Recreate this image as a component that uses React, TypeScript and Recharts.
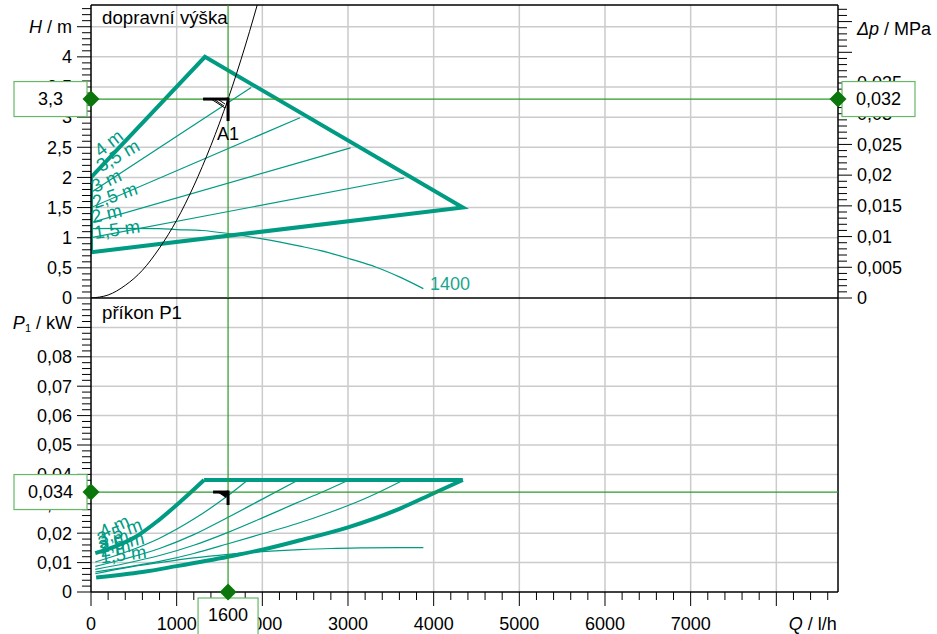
import React from 'react';
import { ComposedChart, Line, XAxis, YAxis, ReferenceLine, ReferenceDot } from 'recharts';

const FONT = '"Liberation Sans", Arial, sans-serif';
const TEAL = '#009b83';
const GRID = '#cbcbcb';
const CROSS = '#2b9b2b';
const DIAMOND = '#0b760b';
const BOX = '#66b866';

// Q axis (l/h)
const Q_MAX = 8720;
const qLabels = [0, 1000, 2000, 3000, 4000, 5000, 6000, 7000];
const qGrid = [1000, 2000, 3000, 4000, 5000, 6000, 7000, 8000];
const qMinor = Array.from({ length: 44 }, (_, i) => i * 200);
const Q_UNIT_AT = 8600;

// top panel: H (m) and Δp (MPa)
const H_MAX = 4.86;
const hLabels = [0, 0.5, 1, 1.5, 2, 2.5, 3, 3.5, 4];
const hGrid = [0.5, 1, 1.5, 2, 2.5, 3, 3.5, 4, 4.5];
const hMinor = Array.from({ length: 49 }, (_, i) => Number((i * 0.1).toFixed(1)));
const DP_MAX = 0.0477;
const dpLabels = [0, 0.005, 0.01, 0.015, 0.02, 0.025, 0.03, 0.035];
const dpMajor = [0, 0.005, 0.01, 0.015, 0.02, 0.025, 0.03, 0.035, 0.04, 0.045];
const dpMinor = Array.from({ length: 48 }, (_, i) => Number((i * 0.001).toFixed(3)));

// bottom panel: P1 (kW)
const P_MAX = 0.1;
const pLabels = [0, 0.01, 0.02, 0.03, 0.04, 0.05, 0.06, 0.07, 0.08];
const pGrid = [0.01, 0.02, 0.03, 0.04, 0.05, 0.06, 0.07, 0.08, 0.09];
const pMinor = Array.from({ length: 50 }, (_, i) => Number((i * 0.002).toFixed(3)));

// operating point
const opQ = 1600;
const opH = 3.3;
const opDp = 0.032;
const opP = 0.034;

// H curves
const envQ = [0, 0, 1330, 4340, 0];
const envH = [0.76, 2.0, 4.0, 1.5, 0.76];
const h35Q = [0, 1870];
const h35H = [1.75, 3.49];
const h30Q = [0, 2440];
const h30H = [1.5, 2.99];
const h25Q = [0, 3030];
const h25H = [1.25, 2.49];
const h20Q = [0, 3655];
const h20H = [1.0, 1.99];
const h1400Q = [0, 400, 800, 1000, 1300, 1600, 2000, 2440, 2670, 3020, 3330, 3600, 3880];
const h1400H = [1.15, 1.155, 1.15, 1.135, 1.12, 1.07, 0.98, 0.86, 0.79, 0.65, 0.51, 0.35, 0.155];
const sysQ = [0, 200, 400, 600, 800, 1000, 1200, 1400, 1600, 1800, 2000];
const sysH = [0, 0.05, 0.21, 0.46, 0.83, 1.29, 1.86, 2.53, 3.3, 4.18, 5.16];

// P1 curves
const pMaxQ = [50, 300, 513, 785, 1058, 1320];
const pMaxP = [0.0132, 0.0157, 0.0186, 0.0243, 0.0311, 0.0381];
const pTopQ = [1320, 4340];
const pTopP = [0.0381, 0.0381];
const pMinQ = [60, 600, 1000, 1600, 2000, 2440, 3000, 3600, 4000, 4340];
const pMinP = [0.0049, 0.0068, 0.0088, 0.012, 0.0144, 0.0176, 0.022, 0.0283, 0.0336, 0.0381];
const p35Q = [50, 400, 800, 1200, 1600, 1830];
const p35P = [0.0102, 0.0135, 0.0183, 0.0248, 0.0328, 0.0381];
const p30Q = [50, 400, 800, 1200, 1600, 2000, 2420];
const p30P = [0.0087, 0.0113, 0.0148, 0.0195, 0.0254, 0.0316, 0.0381];
const p25Q = [50, 400, 800, 1200, 1600, 2000, 2400, 2700, 3010];
const p25P = [0.0077, 0.0097, 0.0124, 0.0159, 0.0203, 0.0252, 0.0303, 0.034, 0.0381];
const p20Q = [50, 400, 800, 1200, 1600, 2000, 2400, 2800, 3200, 3650];
const p20P = [0.0068, 0.0084, 0.0104, 0.0131, 0.0164, 0.0198, 0.0232, 0.0272, 0.0318, 0.0381];
const p1400Q = [50, 400, 800, 1200, 1600, 2000, 2440, 2800, 3200, 3600, 3880];
const p1400P = [0.0062, 0.0082, 0.01, 0.0116, 0.0128, 0.0137, 0.0144, 0.0148, 0.015, 0.0151, 0.0151];

const curveNames = ['4 m', '3,5 m', '3 m', '2,5 m', '2 m', '1,5 m'];

// label placement (layout)
const topLabelPos = [
  { q: 110, v: 2.33, angle: -38 },
  { q: 117, v: 2.08, angle: -30 },
  { q: 47, v: 1.74, angle: -25 },
  { q: 47, v: 1.48, angle: -19 },
  { q: 23, v: 1.24, angle: -13 },
  { q: 47, v: 0.98, angle: -8 },
];
const botLabelPos = [
  { q: 140, v: 0.0182, angle: -25 },
  { q: 105, v: 0.0158, angle: -20 },
  { q: 105, v: 0.0145, angle: -15 },
  { q: 105, v: 0.0131, angle: -12 },
  { q: 117, v: 0.0118, angle: -10 },
  { q: 117, v: 0.0097, angle: -7 },
];

const zip = (qs: number[], vs: number[]) => qs.map((q, i) => ({ q, v: vs[i] }));
const isIn = (arr: number[], v: number) => arr.some(a => Math.abs(a - v) < 1e-9);
const fmt = (v: number) => String(v).replace('.', ',');

const textStyle = { fontFamily: FONT, fontSize: 18, fill: '#000' };

const yTick = (side: 'left' | 'right', majors: number[], labels: number[], unitAt: number, unit: React.ReactNode, unitDy: number) => (p: any) => {
  const v = p.payload.value;
  const major = isIn(majors, v);
  const s = side === 'left' ? -1 : 1;
  const len = major ? 14 : 9;
  const anchor = side === 'left' ? 'end' : 'start';
  return (
    <g>
      <line x1={p.x} x2={p.x + s * len} y1={p.y} y2={p.y} stroke="#000" strokeWidth={1} />
      {isIn(labels, v) && (
        <text x={p.x + s * 19} y={p.y} dy="0.35em" textAnchor={anchor} style={textStyle}>{fmt(v)}</text>
      )}
      {Math.abs(v - unitAt) < 1e-9 && (
        <text x={p.x + s * 19} y={p.y + unitDy} dy="0.35em" textAnchor={anchor} style={textStyle}>{unit}</text>
      )}
    </g>
  );
};

const xTick = (p: any) => {
  const v = p.payload.value;
  const len = v % 1000 === 0 ? 14 : 8;
  return (
    <g>
      <line x1={p.x} x2={p.x} y1={p.y} y2={p.y + len} stroke="#000" strokeWidth={1} />
      {isIn(qLabels, v) && (
        <text x={p.x} y={p.y + 38} textAnchor="middle" style={textStyle}>{v}</text>
      )}
      {v === Q_UNIT_AT && (
        <text x={p.x + 9} y={p.y + 38} textAnchor="end" style={textStyle}>
          <tspan fontStyle="italic">Q</tspan> / l/h
        </text>
      )}
    </g>
  );
};

const Diamond = ({ cx, cy }: { cx: number; cy: number }) => (
  <polygon points={`${cx},${cy - 8.5} ${cx + 8.5},${cy} ${cx},${cy + 8.5} ${cx - 8.5},${cy}`} fill={DIAMOND} />
);

const valueBox = (text: string, side: 'left' | 'right' | 'below') => (p: any) => {
  const { cx, cy } = p;
  let rx = cx - 77, ry = cy - 17.5, w = 73, h = 35, tx = cx - 40.5, ty = cy;
  if (side === 'right') { rx = cx + 4; tx = cx + 40.5; }
  if (side === 'below') { rx = cx - 30; ry = cy + 6; w = 60; h = 50; tx = cx; ty = cy + 23; }
  return (
    <g>
      <rect x={rx} y={ry} width={w} height={h} fill="#fff" stroke={BOX} strokeWidth={1.2} />
      <text x={tx} y={ty} dy="0.35em" textAnchor="middle" style={textStyle}>{text}</text>
      <Diamond cx={cx} cy={cy} />
    </g>
  );
};

const curveLabel = (text: string, angle: number) => (p: any) => (
  <text x={p.cx} y={p.cy} transform={`rotate(${angle} ${p.cx} ${p.cy})`} style={{ fontFamily: FONT, fontSize: 18.5, fill: TEAL }}>
    {text}
  </text>
);

const markerA1 = (p: any) => {
  const { cx, cy } = p;
  return (
    <g>
      <polygon points={`${cx - 17},${cy} ${cx},${cy} ${cx - 3},${cy + 9}`} fill="#fff" stroke="#000" strokeWidth={1} />
      <line x1={cx - 13} y1={cy + 1} x2={cx - 4} y2={cy + 7} stroke="#000" strokeWidth={1} />
      <line x1={cx - 9} y1={cy + 1} x2={cx - 3} y2={cy + 5} stroke="#000" strokeWidth={1} />
      <line x1={cx - 25} x2={cx} y1={cy} y2={cy} stroke="#000" strokeWidth={3} />
      <line x1={cx} x2={cx} y1={cy - 1.5} y2={cy + 22} stroke="#000" strokeWidth={3} />
      <text x={cx - 11} y={cy + 41} style={textStyle}>A1</text>
    </g>
  );
};

const markerSmall = (p: any) => {
  const { cx, cy } = p;
  return (
    <g>
      <polygon points={`${cx - 11},${cy} ${cx},${cy} ${cx - 2},${cy + 6}`} fill="#000" />
      <line x1={cx - 15} x2={cx} y1={cy} y2={cy} stroke="#000" strokeWidth={3} />
      <line x1={cx} x2={cx} y1={cy - 1.5} y2={cy + 13} stroke="#000" strokeWidth={3} />
    </g>
  );
};

const thin = { stroke: TEAL, strokeWidth: 1.2, dot: false, isAnimationActive: false } as const;
const thick = { stroke: TEAL, strokeWidth: 4, dot: false, isAnimationActive: false } as const;

const TopChart = () => (
  <ComposedChart width={937} height={320} margin={{ top: 5, right: 0, bottom: 22, left: 0 }}>
    <XAxis dataKey="q" type="number" domain={[0, Q_MAX]} allowDataOverflow hide />
    <YAxis yAxisId="h" dataKey="v" type="number" domain={[0, H_MAX]} allowDataOverflow width={91}
      ticks={hMinor} interval={0} tickSize={0} tickMargin={0} tickLine={false}
      axisLine={{ stroke: '#000', strokeWidth: 1.5 }}
      tick={yTick('left', hLabels.concat([4.5]), hLabels, 4.5, <><tspan fontStyle="italic">H</tspan> / m</>, 0)} />
    <YAxis yAxisId="dp" orientation="right" type="number" domain={[0, DP_MAX]} allowDataOverflow width={99}
      ticks={dpMinor} interval={0} tickSize={0} tickMargin={0} tickLine={false}
      axisLine={{ stroke: '#000', strokeWidth: 1.5 }}
      tick={yTick('right', dpMajor, dpLabels, 0.045, <><tspan fontStyle="italic">Δp</tspan> / MPa</>, 7)} />

    {qGrid.map(q => <ReferenceLine key={'vx' + q} yAxisId="h" x={q} stroke={GRID} strokeWidth={1.5} />)}
    {hGrid.map(h => <ReferenceLine key={'hy' + h} yAxisId="h" y={h} stroke={GRID} strokeWidth={1.5} />)}
    <ReferenceLine yAxisId="h" y={H_MAX} stroke="#000" strokeWidth={1.5} />
    <ReferenceLine yAxisId="h" y={0} stroke="#000" strokeWidth={1.5} />

    <Line yAxisId="h" data={zip(h35Q, h35H)} dataKey="v" type="linear" {...thin} />
    <Line yAxisId="h" data={zip(h30Q, h30H)} dataKey="v" type="linear" {...thin} />
    <Line yAxisId="h" data={zip(h25Q, h25H)} dataKey="v" type="linear" {...thin} />
    <Line yAxisId="h" data={zip(h20Q, h20H)} dataKey="v" type="linear" {...thin} />
    <Line yAxisId="h" data={zip(h1400Q, h1400H)} dataKey="v" type="monotone" {...thin} />
    <Line yAxisId="h" data={zip(envQ, envH)} dataKey="v" type="linear" {...thick} />
    <Line yAxisId="h" data={zip(sysQ, sysH)} dataKey="v" type="monotone" stroke="#000" strokeWidth={1} dot={false} isAnimationActive={false} />

    <ReferenceLine yAxisId="h" x={opQ} stroke={CROSS} strokeWidth={1.2} />
    <ReferenceLine yAxisId="h" y={opH} stroke={CROSS} strokeWidth={1.2} />

    {curveNames.map((t, i) => (
      <ReferenceDot key={'tl' + i} yAxisId="h" x={topLabelPos[i].q} y={topLabelPos[i].v} ifOverflow="visible" shape={curveLabel(t, topLabelPos[i].angle)} />
    ))}
    <ReferenceDot yAxisId="h" x={3956} y={0.13} ifOverflow="visible"
      shape={(p: any) => <text x={p.cx} y={p.cy} style={{ fontFamily: FONT, fontSize: 18, fill: '#1aa68e' }}>1400</text>} />

    <ReferenceDot yAxisId="h" x={opQ} y={opH} ifOverflow="visible" shape={markerA1} />
  </ComposedChart>
);

// same plot geometry as TopChart, only the value boxes on top of the axes
const TopOverlay = () => (
  <ComposedChart width={937} height={320} margin={{ top: 5, right: 99, bottom: 22, left: 91 }}>
    <XAxis dataKey="q" type="number" domain={[0, Q_MAX]} allowDataOverflow hide />
    <YAxis yAxisId="h" type="number" domain={[0, H_MAX]} allowDataOverflow hide />
    <ReferenceDot yAxisId="h" x={0} y={opH} ifOverflow="visible" shape={valueBox(fmt(opH), 'left')} />
    <ReferenceDot yAxisId="h" x={Q_MAX} y={opH} ifOverflow="visible" shape={valueBox(fmt(opDp), 'right')} />
  </ComposedChart>
);

const BottomChart = () => (
  <ComposedChart width={937} height={336} margin={{ top: 0, right: 99, bottom: 0, left: 0 }}>
    <XAxis dataKey="q" type="number" domain={[0, Q_MAX]} allowDataOverflow height={42}
      ticks={qMinor} interval={0} tickSize={0} tickMargin={0} tickLine={false}
      axisLine={{ stroke: '#000', strokeWidth: 1.5 }} tick={xTick} />
    <YAxis yAxisId="p" dataKey="v" type="number" domain={[0, P_MAX]} allowDataOverflow width={91}
      ticks={pMinor} interval={0} tickSize={0} tickMargin={0} tickLine={false}
      axisLine={{ stroke: '#000', strokeWidth: 1.5 }}
      tick={yTick('left', pLabels.concat([0.09]), pLabels, 0.09,
        <><tspan fontStyle="italic">P</tspan><tspan fontSize={11} dy={3}>1</tspan><tspan dy={-3}> / kW</tspan></>, -5)} />

    {qGrid.map(q => <ReferenceLine key={'bvx' + q} yAxisId="p" x={q} stroke={GRID} strokeWidth={1.5} />)}
    {pGrid.map(v => <ReferenceLine key={'bhy' + v} yAxisId="p" y={v} stroke={GRID} strokeWidth={1.5} />)}
    <ReferenceLine yAxisId="p" x={Q_MAX} stroke="#000" strokeWidth={1.5} />

    <Line yAxisId="p" data={zip(p35Q, p35P)} dataKey="v" type="monotone" {...thin} />
    <Line yAxisId="p" data={zip(p30Q, p30P)} dataKey="v" type="monotone" {...thin} />
    <Line yAxisId="p" data={zip(p25Q, p25P)} dataKey="v" type="monotone" {...thin} />
    <Line yAxisId="p" data={zip(p20Q, p20P)} dataKey="v" type="monotone" {...thin} />
    <Line yAxisId="p" data={zip(p1400Q, p1400P)} dataKey="v" type="monotone" {...thin} />
    <Line yAxisId="p" data={zip(pMaxQ, pMaxP)} dataKey="v" type="monotone" {...thick} />
    <Line yAxisId="p" data={zip(pTopQ, pTopP)} dataKey="v" type="linear" {...thick} />
    <Line yAxisId="p" data={zip(pMinQ, pMinP)} dataKey="v" type="monotone" {...thick} />

    <ReferenceLine yAxisId="p" x={opQ} stroke={CROSS} strokeWidth={1.2} />
    <ReferenceLine yAxisId="p" y={opP} stroke={CROSS} strokeWidth={1.2} />

    {curveNames.map((t, i) => (
      <ReferenceDot key={'bl' + i} yAxisId="p" x={botLabelPos[i].q} y={botLabelPos[i].v} ifOverflow="visible" shape={curveLabel(t, botLabelPos[i].angle)} />
    ))}

    <ReferenceDot yAxisId="p" x={opQ} y={opP} ifOverflow="visible" shape={markerSmall} />
  </ComposedChart>
);

const BottomOverlay = () => (
  <ComposedChart width={937} height={336} margin={{ top: 0, right: 99, bottom: 42, left: 91 }}>
    <XAxis dataKey="q" type="number" domain={[0, Q_MAX]} allowDataOverflow hide />
    <YAxis yAxisId="p" type="number" domain={[0, P_MAX]} allowDataOverflow hide />
    <ReferenceDot yAxisId="p" x={0} y={opP} ifOverflow="visible" shape={valueBox(fmt(opP), 'left')} />
    <ReferenceDot yAxisId="p" x={opQ} y={0} ifOverflow="visible" shape={valueBox(String(opQ), 'below')} />
  </ComposedChart>
);

export default function App() {
  return (
    <div style={{ position: 'absolute', left: 0, top: 0, width: 937, height: 634, background: '#fff', overflow: 'hidden', fontFamily: FONT }}>
      <div style={{ position: 'absolute', left: 0, top: 298 }}>
        <BottomChart />
      </div>
      <div style={{ position: 'absolute', left: 0, top: 298 }}>
        <BottomOverlay />
      </div>
      <div style={{ position: 'absolute', left: 0, top: 0 }}>
        <TopChart />
      </div>
      <div style={{ position: 'absolute', left: 0, top: 0 }}>
        <TopOverlay />
      </div>
      <div style={{ position: 'absolute', left: 102, top: 7, fontSize: 18.7, color: '#000', pointerEvents: 'none' }}>dopravní výška</div>
      <div style={{ position: 'absolute', left: 102, top: 302, fontSize: 18.7, color: '#000', pointerEvents: 'none' }}>příkon P1</div>
    </div>
  );
}
